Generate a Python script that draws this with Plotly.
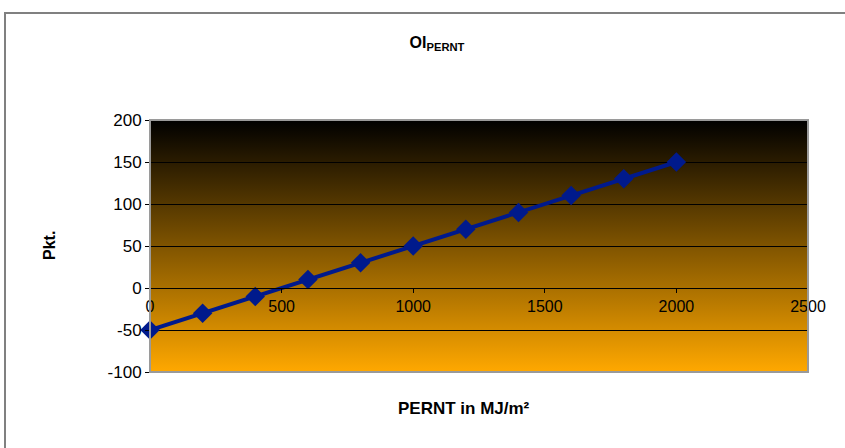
import plotly.graph_objects as go
import urllib.parse

x_vals = [0, 200, 400, 600, 800, 1000, 1200, 1400, 1600, 1800, 2000]
y_vals = [-50, -30, -10, 10, 30, 50, 70, 90, 110, 130, 150]
x_ticks = [0, 500, 1000, 1500, 2000, 2500]
y_ticks = [-100, -50, 0, 50, 100, 150, 200]
y_tick_text = ["-100", "-50", "0", "50", "100", "150", "200"]

W, H = 845, 448
L, R, T, B = 150, 37, 120, 76
pw, ph = W - L - R, H - T - B

def px(x):
    return (x - L) / pw

def py(y):
    return (H - B - y) / ph

svg = ('<svg xmlns="http://www.w3.org/2000/svg" width="100" height="100" preserveAspectRatio="none" viewBox="0 0 100 100">'
       '<defs><linearGradient id="g" x1="0" y1="0" x2="0" y2="1">'
       '<stop offset="0" stop-color="#000000"/><stop offset="1" stop-color="#FFA800"/>'
       '</linearGradient></defs><rect width="100" height="100" fill="url(#g)"/></svg>')
uri = "data:image/svg+xml;charset=utf-8," + urllib.parse.quote(svg)

fig = go.Figure()
fig.add_trace(go.Scatter(
    x=x_vals, y=y_vals, mode="lines+markers",
    line=dict(color="#001A8C", width=4),
    marker=dict(symbol="diamond", size=15, color="#001A8C"),
    cliponaxis=False, showlegend=False,
))

font = "Liberation Sans, Arial, sans-serif"
fig.update_layout(
    width=W, height=H,
    margin=dict(l=L, r=R, t=T, b=B),
    paper_bgcolor="white", plot_bgcolor="rgba(0,0,0,0)",
    font=dict(family=font, size=16, color="black"),
    title=dict(text="<b>OI<sub>PERNT</sub></b>",
               x=437 / W, xref="container", y=1 - 42 / H, yref="container",
               yanchor="middle", xanchor="center", font=dict(size=16)),
    xaxis=dict(range=[0, 2500], tickvals=x_ticks, showgrid=False, zeroline=False,
               anchor="free", position=1 / 3, ticks="outside", ticklen=4,
               tickcolor="black", showline=True, linecolor="black", linewidth=1,
               tickfont=dict(size=16)),
    yaxis=dict(range=[-100, 200], tickvals=y_ticks, ticktext=y_tick_text, showgrid=True,
               gridcolor="black", gridwidth=1, zeroline=False, ticks="outside", ticklen=4,
               tickcolor="black", showline=True, linecolor="black", linewidth=1,
               tickfont=dict(size=17)),
    images=[dict(source=uri, xref="paper", yref="paper", x=0, y=1, sizex=1, sizey=1,
                 sizing="stretch", layer="below", xanchor="left", yanchor="top")],
    shapes=[
        dict(type="rect", xref="paper", yref="paper", x0=0, x1=1, y0=0, y1=1,
             line=dict(color="#9A9A9A", width=2), fillcolor="rgba(0,0,0,0)", layer="above"),
        dict(type="rect", xref="paper", yref="paper", x0=px(5), x1=px(860), y0=py(470), y1=py(13),
             line=dict(color="#808080", width=2), fillcolor="rgba(0,0,0,0)"),
    ],
    annotations=[
        dict(text="<b>PERNT in MJ/m²</b>", xref="paper", yref="paper", x=px(464), y=py(408),
             showarrow=False, font=dict(size=17), xanchor="center", yanchor="middle"),
        dict(text="<b>Pkt.</b>", xref="paper", yref="paper", x=px(49), y=py(246),
             showarrow=False, font=dict(size=16), textangle=-90, xanchor="center", yanchor="middle"),
    ],
)
fig.write_html("out.html", config={"displayModeBar": False},
               post_script="document.body.style.margin='0';")
